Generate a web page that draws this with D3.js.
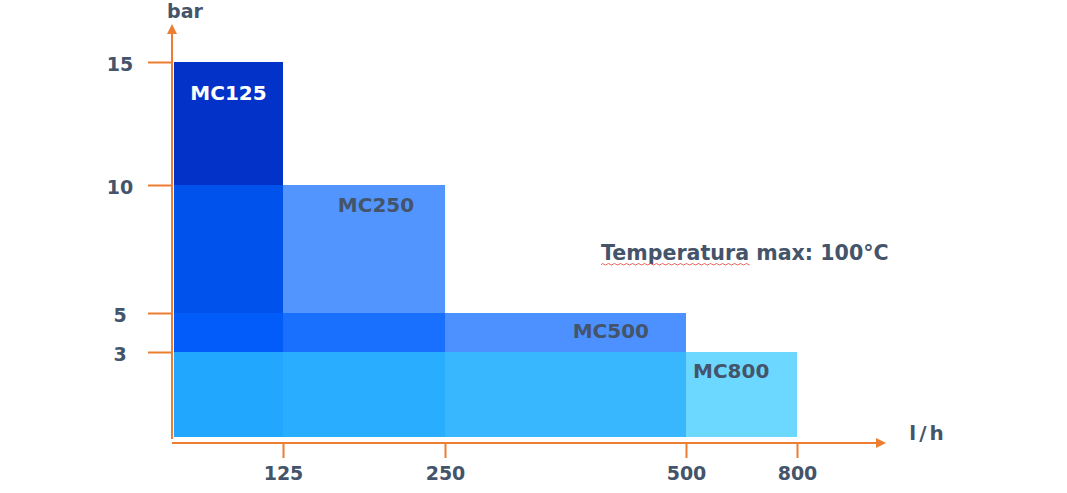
<!DOCTYPE html>
<html>
<head>
<meta charset="utf-8">
<script src="https://cdn.jsdelivr.net/npm/d3@7"></script>
<style>
  html, body { margin: 0; padding: 0; background: #fff; }
  svg { display: block; font-family: "DejaVu Sans", Verdana, sans-serif; font-weight: bold; }
</style>
</head>
<body>
<svg width="1067" height="493"></svg>
<script>
// pumps: max flow (l/h) and max pressure (bar)
const models = ["MC125", "MC250", "MC500", "MC800"];
const flows = [125, 250, 500, 800];
const pressures = [15, 10, 5, 3];
const colors = ["#0232C8", "#0062FF", "#0261FF", "#2FC7FF"];
const opacities = [1, 0.675, 0.70, 0.70];
const xTicks = [125, 250, 500, 800];
const yTicks = [3, 5, 10, 15];
const note = "Temperatura max: 100°C";

const svg = d3.select("svg");
const orange = "#ED7D31", ink = "#44546A";

// the source chart is not to scale, so both scales are piecewise
const x = d3.scaleLinear().domain([0, 125, 250, 500, 800]).range([174, 283, 445, 686, 797]);
const y = d3.scaleLinear().domain([0, 3, 5, 10, 15]).range([437, 352, 313, 185, 62]);

const data = models.map((m, i) => ({ name: m, flow: flows[i], bar: pressures[i], color: colors[i], op: opacities[i] }));

svg.append("g").selectAll("rect")
  .data(data)
  .enter().append("rect")
  .attr("x", x(0))
  .attr("y", d => y(d.bar))
  .attr("width", d => x(d.flow) - x(0))
  .attr("height", d => y(0) - y(d.bar))
  .attr("fill", d => d.color)
  .attr("fill-opacity", d => d.op);

// labels inside bars
const lab = svg.append("g").attr("font-size", 20);
lab.append("text").attr("x", (x(0) + x(125)) / 2).attr("y", y(15) + 38)
  .attr("text-anchor", "middle").attr("fill", "#fff").text(models[0]);
lab.append("text").attr("x", x(250) - 69).attr("y", y(10) + 27)
  .attr("text-anchor", "middle").attr("fill", ink).text(models[1]);
lab.append("text").attr("x", x(500) - 37).attr("y", y(5) + 25)
  .attr("text-anchor", "end").attr("fill", ink).text(models[2]);
lab.append("text").attr("x", x(500) + 7).attr("y", y(3) + 26)
  .attr("text-anchor", "start").attr("fill", ink).text(models[3]);

// arrow marker
svg.append("defs").append("marker")
  .attr("id", "arrow").attr("viewBox", "0 0 10 10")
  .attr("refX", 2).attr("refY", 5)
  .attr("markerWidth", 5).attr("markerHeight", 5)
  .attr("markerUnits", "strokeWidth")
  .attr("orient", "auto")
  .append("path").attr("d", "M0,0 L10,5 L0,10 z").attr("fill", orange);

// y axis
const yAxis = svg.append("g").attr("transform", "translate(172,0)")
  .call(d3.axisLeft(y).tickValues(yTicks).tickSize(24).tickPadding(0))
  .attr("font-family", null).attr("font-size", 19);
yAxis.select(".domain").remove();
yAxis.selectAll(".tick line").attr("stroke", orange).attr("stroke-width", 2);
yAxis.selectAll(".tick text").attr("x", -52).attr("y", 2).attr("text-anchor", "middle")
  .attr("fill", ink).attr("dy", "0.36em");
svg.append("line").attr("x1", 172).attr("y1", 439).attr("x2", 172).attr("y2", 32)
  .attr("stroke", orange).attr("stroke-width", 2).attr("marker-end", "url(#arrow)");

// x axis
const xAxis = svg.append("g").attr("transform", "translate(0,443)")
  .call(d3.axisBottom(x).tickValues(xTicks).tickSize(15).tickPadding(0))
  .attr("font-family", null).attr("font-size", 19);
xAxis.select(".domain").remove();
xAxis.selectAll(".tick line").attr("stroke", orange).attr("stroke-width", 2);
xAxis.selectAll(".tick text").attr("y", 30).attr("dy", "0.36em").attr("fill", ink);
svg.append("line").attr("x1", 172).attr("y1", 443).attr("x2", 878).attr("y2", 443)
  .attr("stroke", orange).attr("stroke-width", 2).attr("marker-end", "url(#arrow)");

// axis titles
svg.append("text").attr("x", 185).attr("y", 18).attr("text-anchor", "middle")
  .attr("fill", ink).attr("font-size", 19).text("bar");
svg.append("text").attr("x", 928).attr("y", 440).attr("text-anchor", "middle")
  .attr("fill", ink).attr("font-size", 20).attr("letter-spacing", 3).text("l/h");

// note
svg.append("text").attr("x", 601).attr("y", 260)
  .attr("fill", ink).attr("font-size", 20.6).text(note);
// spell-check squiggle under the first word
let sq = "M601,265";
for (let px = 601; px < 751; px += 3) sq += " L" + (px + 1.5) + "," + (((px - 601) / 3) % 2 ? 265 : 263.5);
svg.append("path").attr("d", sq).attr("fill", "none").attr("stroke", "#E0403A").attr("stroke-width", 0.8);
</script>
</body>
</html>
